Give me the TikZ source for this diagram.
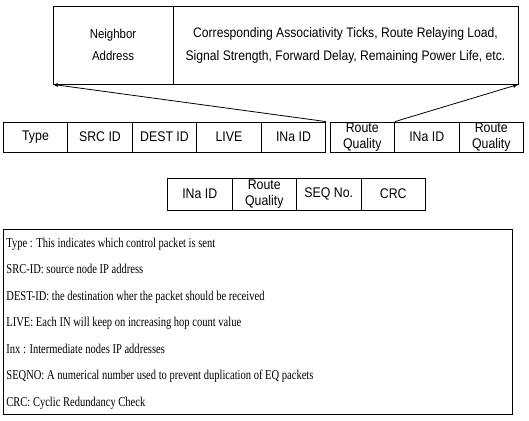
\documentclass[tikz,border=0pt]{standalone}
\usepackage{fontspec}
\newfontfamily\cellfont[FakeStretch=0.88]{Liberation Sans}
\newfontfamily\notefont[FakeStretch=0.78]{Liberation Serif}
\tikzset{
  field/.style={draw, minimum width=64.5pt, minimum height=30pt, inner sep=0pt,
    align=center, font=\cellfont\fontsize{14}{16}\selectfont},
  note/.style={anchor=base west, inner sep=0pt, font=\notefont\fontsize{13.5}{15}\selectfont},
}
\begin{document}
\begin{tikzpicture}[x=1pt, y=-1pt, line width=0.8pt]
      \useasboundingbox (0,0) rectangle (529,420);
      % neighbor record
      \node [field, minimum width=120pt, minimum height=78pt,
        font=\cellfont\fontsize{13}{22}\selectfont] (naddr) at (113,45) {Neighbor\\Address};
      \node [field, minimum width=345pt, minimum height=78pt,
        font=\cellfont\fontsize{13.8}{23}\selectfont] (attrs) at (345.5,45)
        {Corresponding Associativity Ticks, Route Relaying Load,\\Signal Strength, Forward Delay, Remaining Power Life, etc.};
      % packet fields
      \node [field] (type) at (35.5,137) {Type};
      \node [field] (src) at (100,137) {SRC ID};
      \node [field] (dest) at (164.5,137) {DEST ID};
      \node [field] (live) at (229,137) {LIVE};
      \node [field] (ina1) at (293.5,137) {INa ID};
      \node [field] (rq1) at (362.25,137) {Route\\Quality};
      \node [field] (ina2) at (426.75,137) {INa ID};
      \node [field] (rq2) at (491.25,137) {Route\\Quality};
      \node [field, minimum height=32pt] (ina3) at (199.75,194) {INa ID};
      \node [field, minimum height=32pt] (rq3) at (264.25,194) {Route\\Quality};
      \node [field, minimum height=32pt] (seq) at (328.75,194) {SEQ No.};
      \node [field, minimum height=32pt] (crc) at (393.25,194) {CRC};
      \draw [>=latex, ->] (ina1.north east) -- (naddr.south west);
      \draw [>=latex, ->] (rq1.north east) -- (attrs.south east);
      % legend
      \node [draw, minimum width=509pt, minimum height=185pt, inner sep=0pt] (legend) at (257.5,321.5) {};
      \node [note] (n1) at (6,247) {Type : This indicates which control packet is sent};
      \node [note] (n2) at (6,273.5) {SRC-ID: source node IP address};
      \node [note] (n3) at (6,300) {DEST-ID: the destination wher the packet should be received};
      \node [note] (n4) at (6,326.5) {LIVE: Each IN will keep on increasing hop count value};
      \node [note] (n5) at (6,353) {Inx : Intermediate nodes IP addresses};
      \node [note] (n6) at (6,379.5) {SEQNO: A numerical number used to prevent duplication of EQ packets};
      \node [note] (n7) at (6,406) {CRC: Cyclic Redundancy Check};
\end{tikzpicture}
\end{document}
